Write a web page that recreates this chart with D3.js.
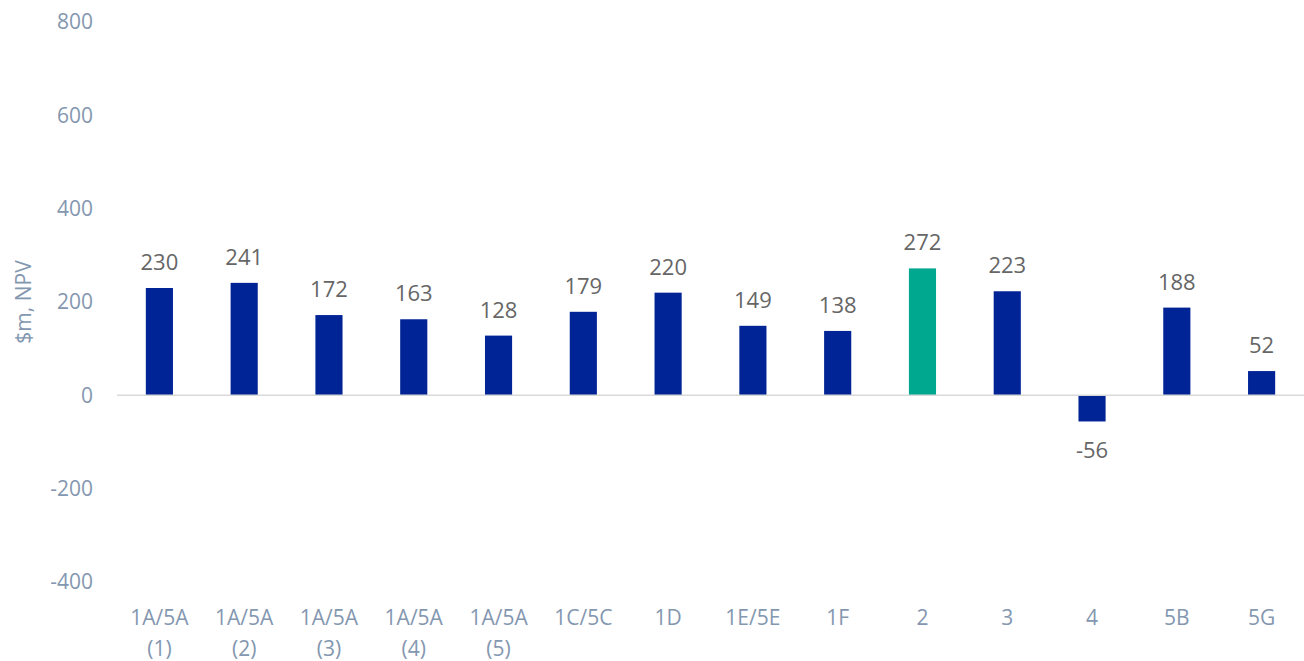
<!DOCTYPE html>
<html>
<head>
<meta charset="utf-8">
<script src="https://cdn.jsdelivr.net/npm/d3@7"></script>
<style>
  body { margin: 0; background: #fff; }
  text { font-family: "Open Sans", sans-serif; }
</style>
</head>
<body>
<svg id="chart" width="1304" height="661"></svg>
<script>
// chart data
const categories = ["1A/5A (1)", "1A/5A (2)", "1A/5A (3)", "1A/5A (4)", "1A/5A (5)", "1C/5C", "1D", "1E/5E", "1F", "2", "3", "4", "5B", "5G"];
const npvValues = [230, 241, 172, 163, 128, 179, 220, 149, 138, 272, 223, -56, 188, 52];
const highlighted = ["2"];
const yTicks = [-400, -200, 0, 200, 400, 600, 800];

const svg = d3.select("#chart");

const x = d3.scaleBand()
    .domain(categories)
    .range([117, 1304])
    .paddingInner(0.68)
    .paddingOuter(0.34);

const y = d3.scaleLinear()
    .domain([-400, 800])
    .range([582, 22]);

// y tick labels
svg.append("g")
    .selectAll("text")
    .data(yTicks)
    .join("text")
    .attr("x", 93)
    .attr("y", d => y(d))
    .attr("dy", "0.35em")
    .attr("text-anchor", "end")
    .attr("fill", "#8497b0")
    .style("font-size", "21px")
    .text(d => d);

// y axis title
svg.append("text")
    .attr("transform", "translate(31," + y(200) + ") rotate(-90)")
    .attr("text-anchor", "middle")
    .attr("fill", "#8497b0")
    .style("font-size", "21px")
    .text("$m, NPV");

// bars
svg.append("g")
    .selectAll("rect")
    .data(categories)
    .join("rect")
    .attr("x", d => x(d))
    .attr("width", x.bandwidth())
    .attr("y", (d, i) => y(Math.max(0, npvValues[i])))
    .attr("height", (d, i) => Math.abs(y(npvValues[i]) - y(0)))
    .attr("fill", d => highlighted.includes(d) ? "#00a88f" : "#002395");

// zero line
svg.append("line")
    .attr("x1", 117)
    .attr("x2", 1304)
    .attr("y1", y(0))
    .attr("y2", y(0))
    .attr("stroke", "#d9d9d9")
    .attr("stroke-width", 1.5);

// data labels
svg.append("g")
    .selectAll("text")
    .data(categories)
    .join("text")
    .attr("x", d => x(d) + x.bandwidth() / 2)
    .attr("y", (d, i) => npvValues[i] >= 0 ? y(npvValues[i]) - 18 : y(npvValues[i]) + 37)
    .attr("text-anchor", "middle")
    .attr("fill", "#666666")
    .style("font-size", "22px")
    .text((d, i) => npvValues[i]);

// category labels, split onto two lines
const catLabels = svg.append("g")
    .selectAll("text")
    .data(categories)
    .join("text")
    .attr("x", d => x(d) + x.bandwidth() / 2)
    .attr("y", 625)
    .attr("text-anchor", "middle")
    .attr("fill", "#8497b0")
    .style("font-size", "21px");

catLabels.selectAll("tspan")
    .data(d => d.split(" "))
    .join("tspan")
    .attr("x", function () { return d3.select(this.parentNode).attr("x"); })
    .attr("dy", (d, i) => i === 0 ? 0 : 31)
    .text(d => d);
</script>
</body>
</html>
